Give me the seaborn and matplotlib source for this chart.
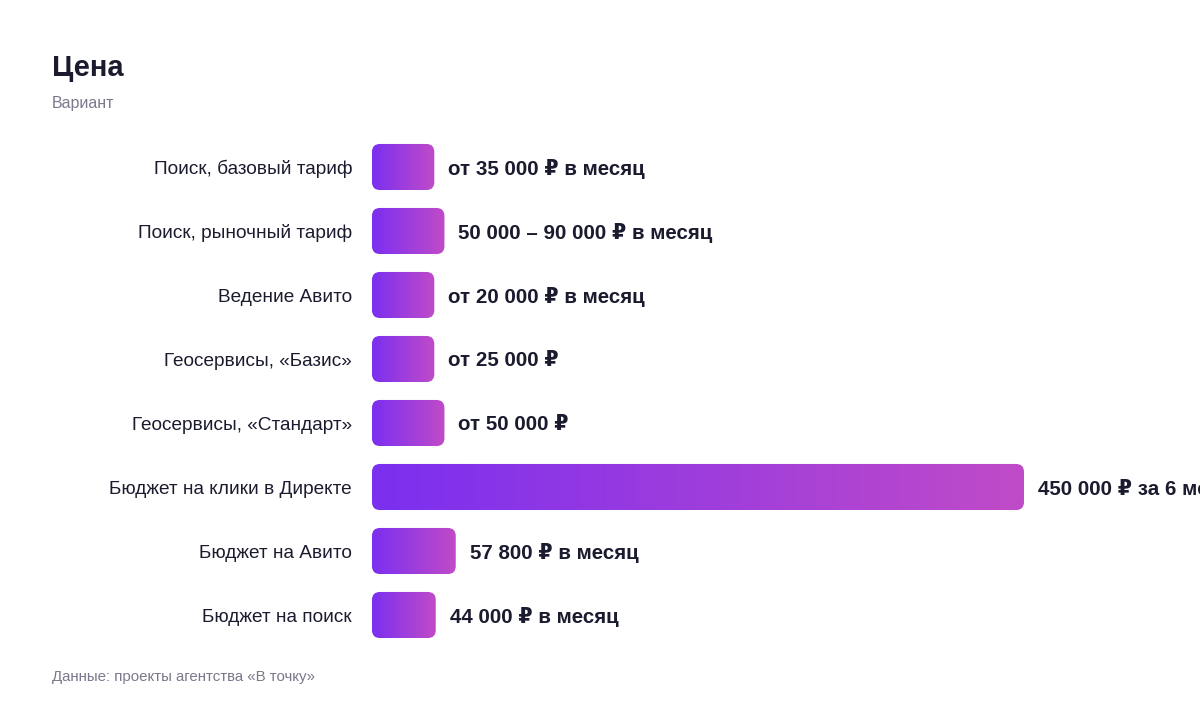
import numpy as np
import pandas as pd
import matplotlib
matplotlib.use("Agg")
import matplotlib.pyplot as plt
from matplotlib.patches import FancyBboxPatch
from matplotlib.colors import LinearSegmentedColormap
import seaborn as sns

# --- Data ---
categories = [
    "Поиск, базовый тариф",
    "Поиск, рыночный тариф",
    "Ведение Авито",
    "Геосервисы, «Базис»",
    "Геосервисы, «Стандарт»",
    "Бюджет на клики в Директе",
    "Бюджет на Авито",
    "Бюджет на поиск",
]
values = [35000, 50000, 20000, 25000, 50000, 450000, 57800, 44000]
value_labels = [
    "от 35 000 ₽ в месяц",
    "50 000 – 90 000 ₽ в месяц",
    "от 20 000 ₽ в месяц",
    "от 25 000 ₽",
    "от 50 000 ₽",
    "450 000 ₽ за 6 месяцев",
    "57 800 ₽ в месяц",
    "44 000 ₽ в месяц",
]

MIN_VISIBLE = 43000  # short bars are drawn with a minimum visible length

DARK = "#1b1b2f"
GRAY = "#7a788c"
C_LEFT = "#7b2ff0"
C_RIGHT = "#c04bc8"
FONTS = ["Liberation Sans", "DejaVu Sans"]

sns.set_theme(style="white")
plt.rcParams["font.family"] = FONTS

df = pd.DataFrame({
    "category": categories,
    "value": values,
    "shown": [max(v, MIN_VISIBLE) for v in values],
    "label": value_labels,
})

W, H = 1200, 712
fig = plt.figure(figsize=(W / 100, H / 100), dpi=100)
ax = fig.add_axes([372 / W, 1 - 647 / H, (1024 - 372) / W, (647 - 135) / H])

sns.barplot(data=df, x="shown", y="category", orient="h", width=0.72,
            color=C_LEFT, ax=ax)
ax.set_xlim(0, 450000)
ax.set_ylim(len(df) - 0.5, -0.5)

cmap = LinearSegmentedColormap.from_list("grad", [C_LEFT, C_RIGHT])
grad = np.linspace(0, 1, 256).reshape(1, -1)

# rounded corners: ~8 px radius in both directions
px_x = 450000 / (1024 - 372)
px_y = 1 / 64
rx = 8 * px_x
ry = 8 * px_y

for bar, lab in zip(ax.patches, df["label"]):
    x, y = bar.get_x(), bar.get_y()
    w, h = bar.get_width(), bar.get_height()
    bar.set_visible(False)
    rounded = FancyBboxPatch((x, y), w, h,
                             boxstyle=f"round,pad=0,rounding_size={rx}",
                             mutation_aspect=ry / rx,
                             facecolor="none", edgecolor="none")
    ax.add_patch(rounded)
    im = ax.imshow(grad, cmap=cmap, aspect="auto",
                   extent=(x, x + w, y + h, y), zorder=2)
    im.set_clip_path(rounded)
    ax.text(x + w + 14 * px_x, y + h / 2, lab, ha="left", va="center_baseline",
            fontsize=14.8, fontweight="bold", color=DARK, clip_on=False,
            family=FONTS)

ax.set_xlim(0, 450000)
ax.set_ylim(len(df) - 0.5, -0.5)
ax.set_xlabel("")
ax.set_ylabel("")
ax.set_xticks([])
ax.tick_params(axis="y", length=0, pad=14.4, labelsize=13.7, labelcolor=DARK)
for t in ax.get_yticklabels():
    t.set_verticalalignment("center_baseline")
sns.despine(ax=ax, left=True, bottom=True)

fig.text(52 / W, 1 - 65 / H, "Цена", fontsize=21, fontweight="bold",
         color=DARK, va="center_baseline", ha="left")
fig.text(52 / W, 1 - 102 / H, "Вариант", fontsize=11.5, color=GRAY,
         va="center_baseline", ha="left")
fig.text(52 / W, 1 - 675 / H, "Данные: проекты агентства «В точку»",
         fontsize=10.8, color=GRAY, va="center_baseline", ha="left")

fig.savefig("out.png", dpi=100, facecolor="white")
plt.close(fig)
